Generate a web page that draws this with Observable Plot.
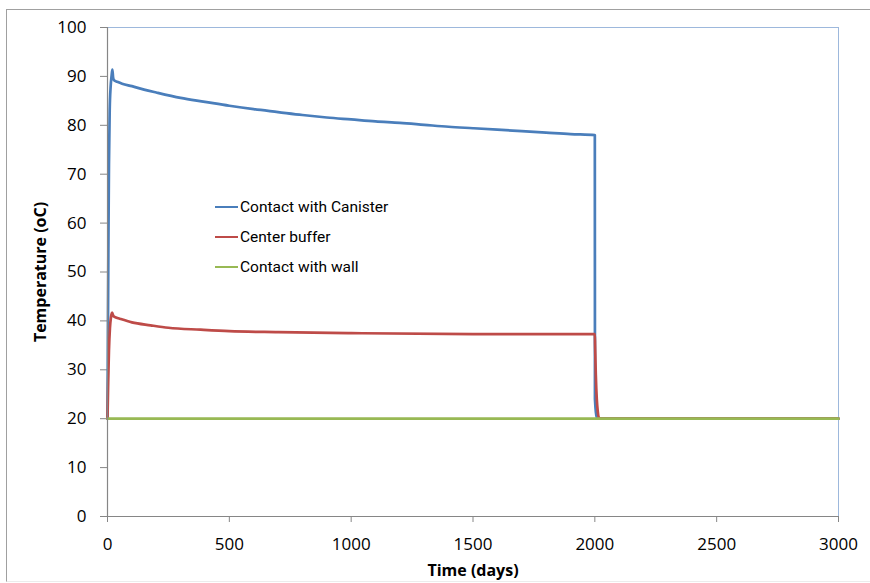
<!DOCTYPE html>
<html>
<head>
<meta charset="utf-8">
<script src="https://cdn.jsdelivr.net/npm/d3@7"></script>
<script src="https://cdn.jsdelivr.net/npm/@observablehq/plot@0.6"></script>
<style>
  html, body { margin: 0; padding: 0; background: #fff; }
  #wrap { position: relative; width: 870px; height: 583px; overflow: hidden; font-family: "Open Sans", sans-serif; }
  #frame { position: absolute; left: 6px; top: 9px; width: 900px; height: 571px; border-top: 1px solid #a0a0a0; border-left: 1px solid #a0a0a0; border-bottom: 1px solid #ececec; pointer-events: none; }
  #legend { position: absolute; left: 215px; top: 197px; font-family: Roboto, sans-serif; font-size: 15.5px; color: #000; }
  .row { position: absolute; left: 0; white-space: nowrap; height: 20px; line-height: 20px; }
  .sw { display: inline-block; width: 23px; height: 2.5px; vertical-align: middle; margin-right: 2px; position: relative; top: -1px; }
</style>
</head>
<body>
<div id="wrap">
  <div id="chart"></div>
  <div id="frame"></div>
  <div id="legend"></div>
</div>
<script>
// Series names and colours
const seriesNames = ["Contact with Canister", "Center buffer", "Contact with wall"];
const seriesColors = ["#4a7ebb", "#be4b48", "#98b954"];

// Time (days) and temperature (oC)
const canisterT = [0, 2, 4, 6, 9, 13, 17, 20, 23, 27, 40, 60, 100, 150, 200, 300, 400, 500, 600, 700, 800, 900, 1000, 1100, 1200, 1300, 1400, 1500, 1600, 1700, 1800, 1900, 2000, 2000.5, 2008, 2015, 3000];
const canisterV = [20, 40, 58, 72, 83, 88, 90.2, 91.4, 89.8, 89.2, 88.9, 88.5, 88.0, 87.3, 86.7, 85.6, 84.8, 84.0, 83.3, 82.7, 82.1, 81.6, 81.2, 80.8, 80.5, 80.1, 79.7, 79.4, 79.1, 78.8, 78.5, 78.2, 78.0, 24, 20.3, 20, 20];

const bufferT = [0, 3, 6, 10, 14, 19, 24, 35, 53, 100, 177, 250, 382, 500, 700, 1000, 1500, 2000, 2001, 2004, 2008, 2012, 2017, 2025, 3000];
const bufferV = [20, 28, 34, 38.5, 40.7, 41.7, 41.0, 40.7, 40.4, 39.7, 39.1, 38.6, 38.2, 37.9, 37.7, 37.5, 37.3, 37.3, 35, 29, 24, 21.5, 20.2, 20, 20];

const wallT = [0, 3000];
const wallV = [20, 20];

// Axis ticks
const xTicks = [0, 500, 1000, 1500, 2000, 2500, 3000];
const yTicks = [0, 10, 20, 30, 40, 50, 60, 70, 80, 90, 100];

const toRows = (ts, vs) => ts.map((t, i) => ({t, v: vs[i]}));
const canister = toRows(canisterT, canisterV);
const buffer = toRows(bufferT, bufferV);
const wall = toRows(wallT, wallV);

const axisGray = "#868686";
const frameBlue = "#9db8dc";

const chart = Plot.plot({
  width: 870,
  height: 583,
  marginLeft: 107,
  marginRight: 32,
  marginTop: 27,
  marginBottom: 67,
  style: { fontFamily: "'Open Sans', sans-serif", background: "transparent", overflow: "visible" },
  x: { domain: [0, 3000] },
  y: { domain: [0, 100] },
  marks: [
    Plot.ruleY([100], { stroke: frameBlue, strokeWidth: 1 }),
    Plot.ruleX([3000], { stroke: frameBlue, strokeWidth: 1 }),
    Plot.axisX({ ticks: xTicks, tickSize: 6, tickPadding: 15, tickFormat: d => String(d), label: null, stroke: axisGray, fill: "#000", fontSize: 17 }),
    Plot.axisY({ ticks: yTicks, tickSize: 7, tickPadding: 14, tickFormat: d => String(d), label: null, stroke: axisGray, fill: "#000", fontSize: 17 }),
    Plot.line(canister, { x: "t", y: "v", stroke: seriesColors[0], strokeWidth: 2.7, curve: "monotone-x" }),
    Plot.line(buffer, { x: "t", y: "v", stroke: seriesColors[1], strokeWidth: 2.7, curve: "monotone-x" }),
    Plot.line(wall, { x: "t", y: "v", stroke: seriesColors[2], strokeWidth: 2.7 }),
    Plot.ruleY([0], { stroke: axisGray, strokeWidth: 1.2 }),
    Plot.ruleX([0], { stroke: axisGray, strokeWidth: 1.2 }),
    Plot.text(["Time (days)"], { frameAnchor: "bottom", dy: 54, lineAnchor: "middle", fontWeight: "bold", fontSize: 16, fill: "#000" }),
    Plot.text(["Temperature (oC)"], { frameAnchor: "left", dx: -67, rotate: -90, textAnchor: "middle", lineAnchor: "middle", fontWeight: "bold", fontSize: 16, fill: "#000" })
  ]
});
document.getElementById("chart").appendChild(chart);

const legend = document.getElementById("legend");
const rowTops = [0, 30, 60];
seriesNames.forEach((name, i) => {
  const row = document.createElement("div");
  row.className = "row";
  row.style.top = rowTops[i] + "px";
  const sw = document.createElement("span");
  sw.className = "sw";
  sw.style.background = seriesColors[i];
  row.appendChild(sw);
  row.appendChild(document.createTextNode(name));
  legend.appendChild(row);
});
</script>
</body>
</html>
